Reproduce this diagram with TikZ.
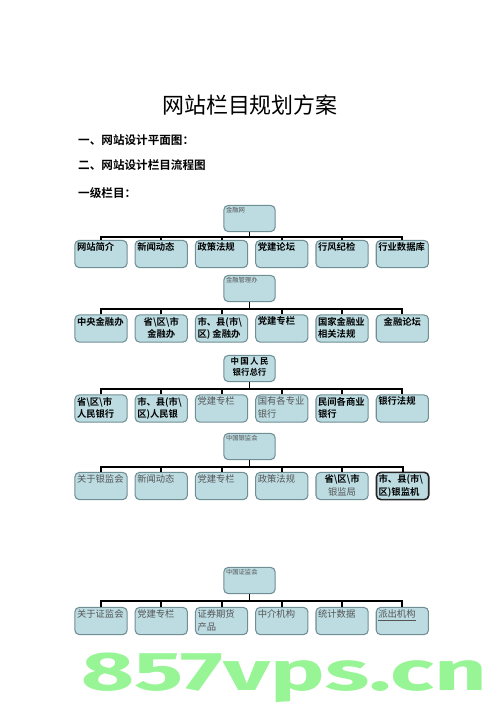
\documentclass[tikz,border=0pt]{standalone}
\usepackage{fontspec}
\setmainfont{Noto Sans CJK SC}[BoldFont={Noto Sans CJK SC Bold}]
\newfontfamily\markfont{Fira Sans}
\usetikzlibrary{positioning}
\definecolor{boxfill}{HTML}{BCDCE2}
\definecolor{boxline}{HTML}{6F8F95}
\definecolor{softtext}{HTML}{555555}
\definecolor{markgreen}{HTML}{98F596}
\tikzstyle{root} = [rectangle, rounded corners=2.5pt, draw=boxline, fill=boxfill, line width=0.6pt, inner sep=1.2pt]
\tikzstyle{item} = [rectangle, rounded corners=2.5pt, draw=boxline, fill=boxfill, line width=0.6pt, inner sep=1.2pt]
\tikzstyle{link} = [line width=1.1pt]
\tikzstyle{heading} = [anchor=west, font=\bfseries\fontsize{6.6}{8}\selectfont]
\newcommand{\rootcell}[1]{\parbox[c][0.44cm][t]{0.94cm}{\fontsize{3.6}{4.6}\selectfont\color{softtext}#1}}
\newcommand{\boldcell}[1]{\parbox[c][0.46cm][t]{0.96cm}{\fontsize{5.3}{7.2}\selectfont\bfseries #1}}
\newcommand{\plaincell}[1]{\parbox[c][0.46cm][t]{0.96cm}{\fontsize{5.3}{7.2}\selectfont\color{softtext}#1}}
\newcommand{\bs}{\textbackslash}

\begin{document}
\begin{tikzpicture}[node distance=0.14cm]
    \useasboundingbox (0,0) rectangle (10,-14.16);

    % watermark
    \node (mark) [anchor=base, text=markgreen, xscale=1.68] at (5.68,-13.8) {\markfont\bfseries\fontsize{31}{31}\selectfont 857vps.cn};

    \node (title) at (5,-2.1) {\fontsize{12.5}{14}\selectfont 网站栏目规划方案};
    \node (line1) [heading] at (1.44,-2.8) {一、网站设计平面图：};
    \node (line2) [heading] at (1.44,-3.3) {二、网站设计栏目流程图};
    \node (line3) [heading] at (1.44,-3.86) {一级栏目：};

    % group 1
    \node (m1) [root] at (4.99,-4.37) {\rootcell{金融网}};
    \node (k11) [item] at (2.02,-5.08) {\boldcell{网站简介}};
    \node (k12) [item, right=of k11] {\boldcell{新闻动态}};
    \node (k13) [item, right=of k12] {\boldcell{政策法规}};
    \node (k14) [item, right=of k13] {\boldcell{党建论坛}};
    \node (k15) [item, right=of k14] {\boldcell{行风纪检}};
    \node (k16) [item, right=of k15] {\boldcell{行业数据库}};

    % group 2
    \node (m2) [root] at (4.99,-5.77) {\rootcell{金融管理办}};
    \node (k21) [item] at (2.02,-6.57) {\boldcell{中央金融办}};
    \node (k22) [item, right=of k21] {\boldcell{\centering 省\bs 区\bs 市\\金融办}};
    \node (k23) [item, right=of k22] {\boldcell{市、县(市\bs\\区) 金融办}};
    \node (k24) [item, right=of k23] {\boldcell{党建专栏}};
    \node (k25) [item, right=of k24] {\boldcell{国家金融业\\相关法规}};
    \node (k26) [item, right=of k25] {\boldcell{\centering 金融论坛}};

    % group 3
    \node (m3) [root] at (4.99,-7.37) {\parbox[c][0.44cm][t]{0.94cm}{\centering\fontsize{4.8}{6.4}\selectfont\bfseries 中\,国\,人\,民\\银行总行}};
    \node (k31) [item] at (2.02,-8.17) {\boldcell{省\bs 区\bs 市\\人民银行}};
    \node (k32) [item, right=of k31] {\boldcell{市、县(市\bs\\区)人民银}};
    \node (k33) [item, right=of k32] {\plaincell{党建专栏}};
    \node (k34) [item, right=of k33] {\plaincell{国有各专业\\银行}};
    \node (k35) [item, right=of k34] {\boldcell{民间各商业\\银行}};
    \node (k36) [item, right=of k35] {\boldcell{银行法规}};

    % group 4
    \node (m4) [root] at (4.99,-8.93) {\rootcell{中国银监会}};
    \node (k41) [item] at (2.02,-9.72) {\plaincell{关于银监会}};
    \node (k42) [item, right=of k41] {\plaincell{新闻动态}};
    \node (k43) [item, right=of k42] {\plaincell{党建专栏}};
    \node (k44) [item, right=of k43] {\plaincell{政策法规}};
    \node (k45) [item, right=of k44] {\plaincell{\centering{\bfseries\color{black}省\bs 区\bs 市}\\银监局}};
    \node (k46) [item, right=of k45, draw=black!85, line width=0.9pt] {\boldcell{市、县(市\bs\\区)银监机}};

    % group 5
    \node (m5) [root] at (4.99,-11.61) {\rootcell{中国证监会}};
    \node (k51) [item] at (2.02,-12.42) {\plaincell{关于证监会}};
    \node (k52) [item, right=of k51] {\plaincell{党建专栏}};
    \node (k53) [item, right=of k52] {\plaincell{证券期货\\产品}};
    \node (k54) [item, right=of k53] {\plaincell{中介机构}};
    \node (k55) [item, right=of k54] {\plaincell{统计数据}};
    \node (k56) [item, right=of k55] {\plaincell{\underline{派出机构}}};

    % connectors
    \draw [link] (m1.south) -- ++(0,-0.1) coordinate (bar1)
        (k11.north) |- (bar1) -| (k16.north)
        (k12.north) -- (k12.north |- bar1) (k13.north) -- (k13.north |- bar1)
        (k14.north) -- (k14.north |- bar1) (k15.north) -- (k15.north |- bar1);
    \draw [link] (m2.south) -- ++(0,-0.13) coordinate (bar2)
        (k21.north) |- (bar2) -| (k26.north)
        (k22.north) -- (k22.north |- bar2) (k23.north) -- (k23.north |- bar2)
        (k24.north) -- (k24.north |- bar2) (k25.north) -- (k25.north |- bar2);
    \draw [link] (m3.south) -- ++(0,-0.13) coordinate (bar3)
        (k31.north) |- (bar3) -| (k36.north)
        (k32.north) -- (k32.north |- bar3) (k33.north) -- (k33.north |- bar3)
        (k34.north) -- (k34.north |- bar3) (k35.north) -- (k35.north |- bar3);
    \draw [link] (m4.south) -- ++(0,-0.13) coordinate (bar4)
        (k41.north) |- (bar4) -| (k46.north)
        (k42.north) -- (k42.north |- bar4) (k43.north) -- (k43.north |- bar4)
        (k44.north) -- (k44.north |- bar4) (k45.north) -- (k45.north |- bar4);
    \draw [link] (m5.south) -- ++(0,-0.14) coordinate (bar5)
        (k51.north) |- (bar5) -| (k56.north)
        (k52.north) -- (k52.north |- bar5) (k53.north) -- (k53.north |- bar5)
        (k54.north) -- (k54.north |- bar5) (k55.north) -- (k55.north |- bar5);
\end{tikzpicture}
\end{document}
